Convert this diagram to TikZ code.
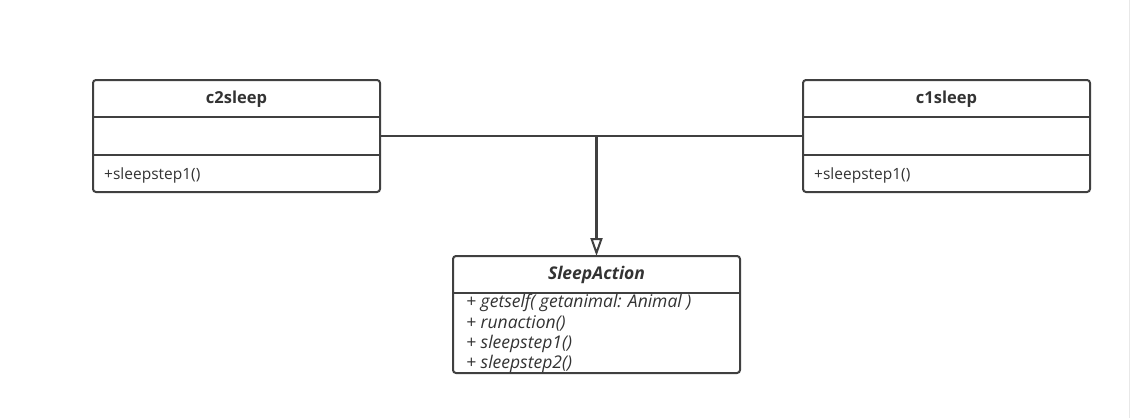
\documentclass[tikz,border=0pt]{standalone}
\usepackage{fontspec}
\setmainfont{Open Sans}
\usetikzlibrary{arrows.meta}
\definecolor{umlline}{HTML}{404040}
\definecolor{umltext}{HTML}{333333}
\tikzset{
  umlbox/.style={draw=umlline, line width=2pt, rounded corners=3pt},
  umlsep/.style={draw=umlline, line width=1.6pt},
  umltitle/.style={font=\fontsize{16.5}{18}\selectfont\bfseries, text=umltext, inner sep=0pt},
  umlitem/.style={font=\fontsize{15.5}{18}\selectfont, text=umltext, anchor=west, inner sep=0pt},
  umlitalic/.style={font=\fontsize{17.5}{18}\selectfont\itshape, text=umltext, anchor=west, inner sep=0pt},
  conn/.style={draw=umlline, line width=2pt},
  vconn/.style={draw=umlline, line width=3pt},
  genarrow/.style={-{Triangle[open, length=18pt, width=12pt, line width=2pt]}}
}
\begin{document}
\begin{tikzpicture}[x=1pt,y=-1pt]
\useasboundingbox[fill=white] (0,0) rectangle (1130,418);
\draw[draw=black!9, line width=1pt] (1129.5,0) -- (1129.5,418);
% c2sleep
\draw[umlbox] (93,80) rectangle (380,192);
\draw[umlsep] (93,117) -- (380,117);
\draw[umlsep] (93,155) -- (380,155);
\node[umltitle] (c2t) at (236.5,99.5) {c2sleep};
\node[umlitem] (c2m) at (104,175) {+sleepstep1()};
\coordinate (c2r) at (380,136);
% c1sleep
\draw[umlbox] (803,80) rectangle (1090,192);
\draw[umlsep] (803,117) -- (1090,117);
\draw[umlsep] (803,155) -- (1090,155);
\node[umltitle] (c1t) at (946.5,99.5) {c1sleep};
\node[umlitem] (c1m) at (814,175) {+sleepstep1()};
\coordinate (c1l) at (803,136);
% SleepAction
\draw[umlbox] (453,256) rectangle (740,373);
\draw[umlsep] (453,293) -- (740,293);
\node[umltitle, font=\fontsize{17.5}{18}\selectfont\bfseries\itshape] (sat) at (596.5,274.5) {SleepAction};
\node[umlitalic] (m1) at (466,303) {+ getself( getanimal: Animal )};
\node[umlitalic] (m2) at (466,323.5) {+ runaction()};
\node[umlitalic] (m3) at (466,344) {+ sleepstep1()};
\node[umlitalic] (m4) at (466,364) {+ sleepstep2()};
\coordinate (sa) at (596.5,256);
% connectors
\coordinate (j) at (596.5,136);
\draw[conn] (c2r) -- (c1l);
\draw[vconn, genarrow] (j) -- (sa);
\end{tikzpicture}
\end{document}
